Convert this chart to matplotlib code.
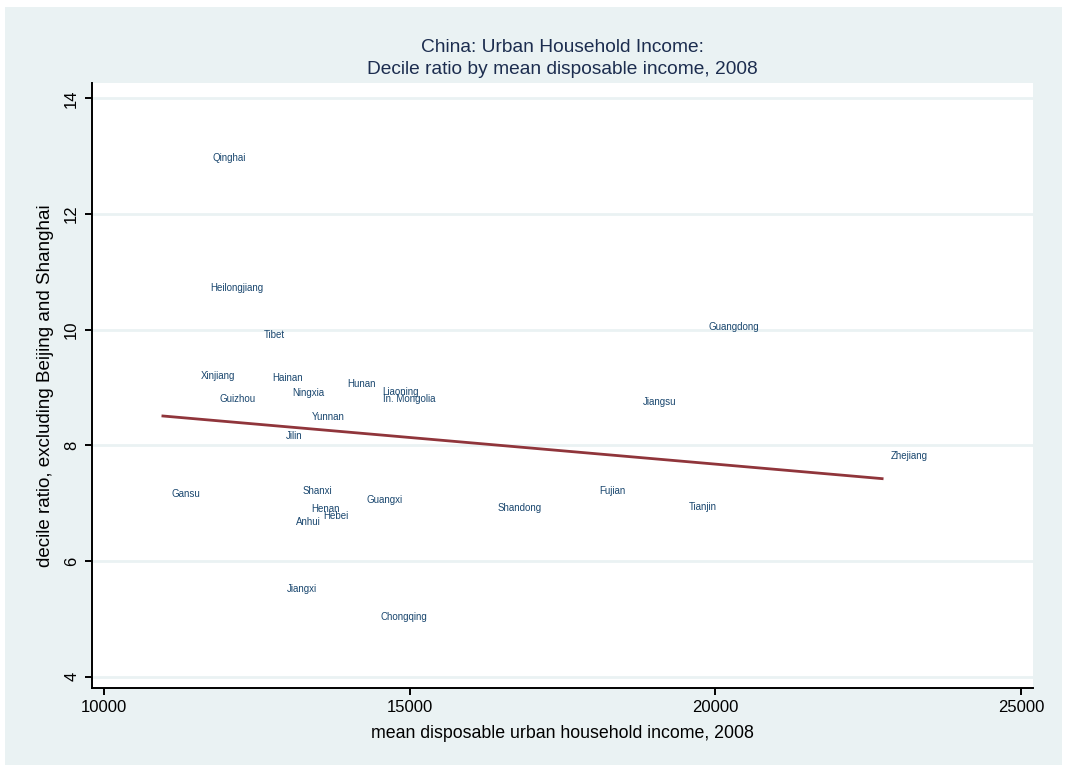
import numpy as np
import matplotlib
matplotlib.use('Agg')
from matplotlib import pyplot as plt
from matplotlib.patches import Rectangle

plt.rcParams['font.family'] = ['Liberation Sans', 'DejaVu Sans']

# provinces, mean disposable income 2008, decile ratio
provinces = ['Qinghai', 'Heilongjiang', 'Tibet', 'Xinjiang', 'Hainan', 'Guizhou',
             'Ningxia', 'Hunan', 'Liaoning', 'In. Mongolia', 'Yunnan', 'Jilin',
             'Gansu', 'Shanxi', 'Guangxi', 'Henan', 'Hebei', 'Anhui', 'Jiangxi',
             'Chongqing', 'Shandong', 'Fujian', 'Tianjin', 'Jiangsu', 'Guangdong',
             'Zhejiang']
income = [11636, 11587, 12471, 11440, 12602, 11751,
          12929, 13829, 14402, 14418, 13256, 12831,
          10965, 13109, 14140, 13240, 13436, 12995, 12847,
          14369, 16300, 17953, 19426, 18673, 19737,
          22731]
decile = [12.97, 10.72, 9.91, 9.20, 9.16, 8.80,
          8.90, 9.06, 8.92, 8.80, 8.49, 8.16,
          7.16, 7.21, 7.05, 6.90, 6.78, 6.67, 5.52,
          5.03, 6.92, 7.21, 6.93, 8.75, 10.05,
          7.82]
xticks = [10000, 15000, 20000, 25000]
yticks = [4, 6, 8, 10, 12, 14]

bg = '#eaf2f3'
navy = '#1a476f'
maroon = '#90353b'

fig = plt.figure(figsize=(10.65, 7.71), dpi=100)
fig.patch.set_facecolor('white')
fig.patches.append(Rectangle((5 / 1065, 1 - 765 / 771), 1057 / 1065, 758 / 771,
                             transform=fig.transFigure, facecolor=bg,
                             edgecolor='none', zorder=-10))

ax = fig.add_axes([0.0861, 0.1077, 0.8839, 0.7843])
ax.set_facecolor('white')

x = np.array(income)
y = np.array(decile)
for name, xi, yi in zip(provinces, income, decile):
    ax.annotate(name, (xi, yi), xytext=(6.5, 0), textcoords='offset points',
                ha='left', va='center', fontsize=7, color=navy)

# linear fit
b, a = np.polyfit(x, y, 1)
xs = np.array([x.min(), x.max()])
ax.plot(xs, a + b * xs, color=maroon, lw=2)

ax.set_xlim(9800, 25200)
ax.set_ylim(3.805, 14.26)
ax.set_xticks(xticks)
ax.set_yticks(yticks)
ax.set_xticklabels([str(t) for t in xticks], fontsize=12)
ax.set_yticklabels([str(t) for t in yticks], fontsize=12, rotation=90, va='center')
ax.grid(axis='y', color=bg, lw=2)
ax.set_axisbelow(True)
for s in ['top', 'right']:
    ax.spines[s].set_visible(False)
for s in ['left', 'bottom']:
    ax.spines[s].set_linewidth(1.4)
ax.tick_params(direction='out', length=5, width=1.4, pad=4)

ax.set_xlabel('mean disposable urban household income, 2008', fontsize=12.8, labelpad=7)
ax.set_ylabel('decile ratio, excluding Beijing and Shanghai', fontsize=13.5, labelpad=7)
ax.set_title('China: Urban Household Income:\nDecile ratio by mean disposable income, 2008',
             fontsize=13.8, color='#1c2d4f', pad=7, linespacing=1.35)

fig.savefig('out.png', dpi=100)
